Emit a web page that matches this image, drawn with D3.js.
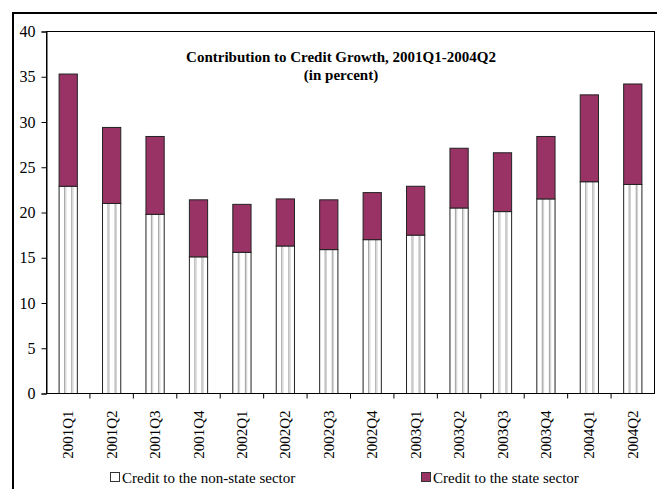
<!DOCTYPE html>
<html>
<head>
<meta charset="utf-8">
<script src="https://cdn.jsdelivr.net/npm/d3@7"></script>
<style>
  html, body { margin: 0; padding: 0; background: #fff; }
  svg { display: block; }
  text { font-family: "Times New Roman", "Liberation Serif", serif; fill: #000; }
</style>
</head>
<body>
<svg id="chart" width="657" height="489"></svg>
<script>
// Quarterly contributions to credit growth (percentage points)
const quarters = ["2001Q1", "2001Q2", "2001Q3", "2001Q4", "2002Q1", "2002Q2", "2002Q3",
                  "2002Q4", "2003Q1", "2003Q2", "2003Q3", "2003Q4", "2004Q1", "2004Q2"];
const nonStateSector = [22.9, 21.0, 19.8, 15.1, 15.6, 16.3, 15.9, 17.0, 17.5, 20.5, 20.1, 21.5, 23.4, 23.1];
const stateSector    = [12.4, 8.4, 8.6, 6.3, 5.3, 5.2, 5.5, 5.2, 5.4, 6.6, 6.5, 6.9, 9.6, 11.1];
const yTicks = [0, 5, 10, 15, 20, 25, 30, 35, 40];
const seriesNames = ["Credit to the non-state sector", "Credit to the state sector"];
const titleLines = ["Contribution to Credit Growth, 2001Q1-2004Q2", "(in percent)"];

const serif = "'Times New Roman', 'Liberation Serif', serif";
const stateColor = "#993366";
const edgeColor = "#222";

const svg = d3.select("#chart");

// Outer chart frame (right and bottom edges fall outside the view)
svg.append("rect")
  .attr("x", 13).attr("y", 13)
  .attr("width", 720).attr("height", 600)
  .attr("fill", "none").attr("stroke", "#000").attr("stroke-width", 2);

const plot = { left: 46.5, right: 654.5, top: 31.5, bottom: 393.5 };

const x = d3.scaleBand().domain(quarters)
  .range([plot.left, plot.right]).paddingInner(0.58).paddingOuter(0.29);
const y = d3.scaleLinear().domain([0, 40]).range([plot.bottom, plot.top]);

const rows = quarters.map((q, i) => ({ q, a: nonStateSector[i], b: stateSector[i] }));
const stack = d3.stack().keys(["a", "b"])(rows);

// Plot area frame
svg.append("rect")
  .attr("x", plot.left).attr("y", plot.top)
  .attr("width", plot.right - plot.left).attr("height", plot.bottom - plot.top)
  .attr("fill", "none").attr("stroke", "#000").attr("stroke-width", 1);

const bw = x.bandwidth();

// Non-state sector: white bars with light vertical stripes
const gA = svg.append("g");
gA.selectAll("rect.base").data(stack[0]).join("rect")
  .attr("x", d => x(d.data.q)).attr("y", d => y(d[1]))
  .attr("width", bw).attr("height", d => y(d[0]) - y(d[1]))
  .attr("fill", "#fff");
[0.27, 0.66].forEach(f => {
  gA.selectAll(null).data(stack[0]).join("rect")
    .attr("x", d => x(d.data.q) + bw * f).attr("y", d => y(d[1]))
    .attr("width", 1.2).attr("height", d => y(d[0]) - y(d[1]))
    .attr("fill", "#aaa");
  gA.selectAll(null).data(stack[0]).join("rect")
    .attr("x", d => x(d.data.q) + bw * f + 1.2).attr("y", d => y(d[1]))
    .attr("width", 1.2).attr("height", d => y(d[0]) - y(d[1]))
    .attr("fill", "#d4d4d4");
});
gA.selectAll("rect.edge").data(stack[0]).join("rect")
  .attr("x", d => x(d.data.q)).attr("y", d => y(d[1]))
  .attr("width", bw).attr("height", d => y(d[0]) - y(d[1]))
  .attr("fill", "none").attr("stroke", edgeColor).attr("stroke-width", 1);

// State sector
svg.append("g").selectAll("rect").data(stack[1]).join("rect")
  .attr("x", d => x(d.data.q)).attr("y", d => y(d[1]))
  .attr("width", bw).attr("height", d => y(d[0]) - y(d[1]))
  .attr("fill", stateColor).attr("stroke", edgeColor).attr("stroke-width", 1);

// Y axis
const yAxis = svg.append("g")
  .attr("transform", `translate(${plot.left},0)`)
  .call(d3.axisLeft(y).tickValues(yTicks).tickSize(5).tickPadding(6).tickFormat(d3.format("d")));
yAxis.attr("font-family", serif);
yAxis.select(".domain").attr("stroke", "#000");
yAxis.selectAll(".tick line").attr("stroke", "#000");
yAxis.selectAll("text").style("font-size", "16px")
  .style("font-family", serif).attr("fill", "#000");

// X axis: ticks sit on the category boundaries
const step = x.step();
const xAxis = svg.append("g").attr("transform", `translate(0,${plot.bottom})`);
xAxis.append("line").attr("x1", plot.left).attr("x2", plot.right)
  .attr("stroke", "#000");
xAxis.selectAll("line.tk").data(quarters.slice(1)).join("line")
  .attr("x1", q => x(q) - (step - bw) / 2).attr("x2", q => x(q) - (step - bw) / 2)
  .attr("y1", 0).attr("y2", 5).attr("stroke", "#000");
xAxis.selectAll("text").data(quarters).join("text")
  .attr("transform", q => `translate(${x(q) + bw / 2 + 5},17) rotate(-90)`)
  .attr("text-anchor", "end")
  .style("font-size", "15px").style("font-family", serif)
  .text(q => q);

// Title
svg.append("g").selectAll("text").data(titleLines).join("text")
  .attr("x", 341).attr("y", (d, i) => 62 + i * 18)
  .attr("text-anchor", "middle")
  .style("font-size", "15px").style("font-weight", "bold").style("font-family", serif)
  .text(d => d);

// Legend
const legendPos = [110, 421];
const legendFill = ["#fff", stateColor];
const lg = svg.append("g").selectAll("g").data(seriesNames).join("g")
  .attr("transform", (d, i) => `translate(${legendPos[i]},472)`);
lg.append("rect").attr("x", 0.5).attr("y", 0.5).attr("width", 9).attr("height", 9)
  .attr("fill", (d, i) => legendFill[i]).attr("stroke", "#333").attr("stroke-width", 1);
lg.append("text").attr("x", 12).attr("y", 11)
  .style("font-size", "15px").style("font-family", serif).text(d => d);
</script>
</body>
</html>
